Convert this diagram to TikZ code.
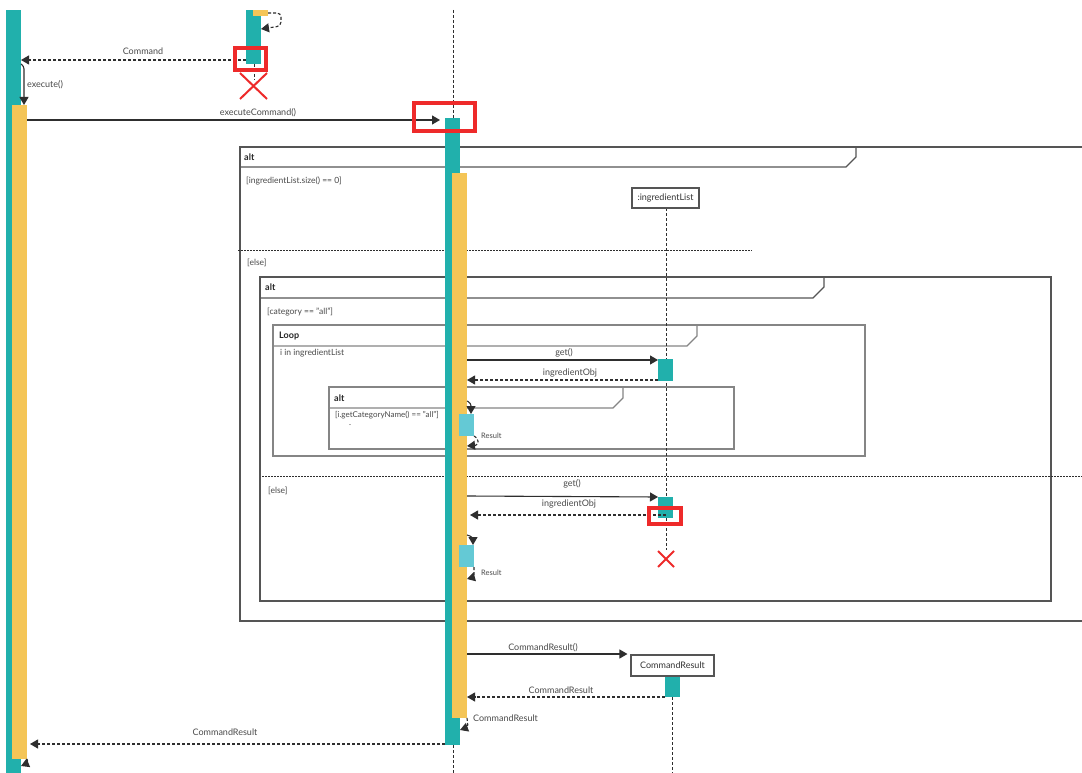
\documentclass[tikz,border=0pt]{standalone}
\usepackage{fontspec}
\setmainfont{Lato}
\usetikzlibrary{arrows.meta}
\definecolor{tealc}{HTML}{21B0AC}
\definecolor{yelc}{HTML}{F4C557}
\definecolor{cyanc}{HTML}{64C9D5}
\definecolor{redc}{HTML}{EE2A2A}
\definecolor{framec}{HTML}{555555}
\definecolor{frame2c}{HTML}{858585}
\definecolor{txtc}{HTML}{4A4A4A}
\definecolor{linec}{HTML}{2E2E2E}
\tikzset{
  act/.style={inner sep=0pt, outer sep=0pt, anchor=north west, minimum width=15pt, draw=none},
  msg/.style={draw=linec, line width=1.1pt, -{Triangle[length=8pt,width=9pt]}},
  ret/.style={msg, dash pattern=on 3pt off 2pt},
  life/.style={draw=linec, line width=0.7pt, dash pattern=on 3pt off 2pt},
  lbl/.style={font=\fontsize{9}{10}\selectfont, text=txtc, inner sep=0pt},
  small/.style={font=\fontsize{7.5}{8}\selectfont, text=txtc, inner sep=0pt, anchor=west},
  hdr/.style={font=\bfseries\fontsize{9}{10}\selectfont, text=black!85, inner sep=0pt, anchor=west},
  guard/.style={font=\fontsize{8.5}{9}\selectfont, text=txtc, inner sep=0pt, anchor=west},
  frm/.style={draw=framec, line width=1.2pt},
  frmb/.style={draw=frame2c, line width=1.2pt},
  sepline/.style={draw=linec, line width=0.8pt, dash pattern=on 2pt off 1pt},
  objbox/.style={draw=framec, line width=1.1pt, fill=white, inner sep=0pt, font=\fontsize{9}{10}\selectfont, text=black!80},
  redbox/.style={draw=redc, line width=4pt},
  redx/.style={draw=redc, line width=2pt}
}
\begin{document}
\begin{tikzpicture}[x=1pt,y=-1pt]
\useasboundingbox (0,0) rectangle (1082,773);
\fill[white] (0,0) rectangle (1082,773);

% ---- combined fragments ----
\draw[frm] (1084,147) -- (240,147) -- (240,621) -- (1084,621);
\draw[frm] (240,167) -- (846,167) -- (856,157) -- (856,147);
\node[hdr] (altA) at (244,157) {alt};
\node[guard] (gA) at (246,181) {[ingredientList.size() == 0]};
\draw[sepline] (238,250) -- (752,250);
\node[guard] (eA) at (247,263) {[else]};

\draw[frm] (260,277) rectangle (1051,601);
\draw[frm] (260,298) -- (813,298) -- (824,287) -- (824,277);
\node[hdr] (altB) at (265,287) {alt};
\node[guard] (gB) at (267,312) {[category == "all"]};
\draw[sepline] (262,476) -- (1084,476);
\node[guard] (eB) at (268,491) {[else]};

\draw[frmb] (273,325) rectangle (865,456);
\draw[frmb] (273,346) -- (687,346) -- (697,336) -- (697,325);
\node[hdr] (loopH) at (279,336) {Loop};
\node[guard] (gL) at (280,353) {i in ingredientList};

\draw[frmb] (329,387) rectangle (734,449);
\draw[frmb] (329,408) -- (613,408) -- (623,398) -- (623,387);
\node[hdr] (altC) at (334,398) {alt};
\node[guard, font=\fontsize{8}{9}\selectfont] (gC) at (335,415) {[i.getCategoryName() == "all"]};
\node[guard] (dotC) at (349,425) {.};

% ---- lifelines ----
\draw[life] (453,10) -- (453,773);
\draw[life] (254,64) -- (254,80);
\draw[life] (666,208) -- (666,550);
\draw[life] (672,697) -- (672,773);

% ---- activation bars ----
\node[act, fill=tealc, minimum height=763pt] (tL) at (6,10) {};
\node[act, fill=yelc, minimum height=654pt] (yL) at (12,105) {};
\node[act, fill=tealc, minimum height=54pt] (tT) at (246,10) {};
\node[act, fill=yelc, minimum height=6pt] (yT) at (253,10) {};
\node[act, fill=tealc, minimum height=627pt] (tM) at (445,118) {};
\node[act, fill=yelc, minimum height=545pt] (yM) at (452,173) {};
\node[act, fill=tealc, minimum height=22pt] (aI1) at (658,359) {};
\node[act, fill=cyanc, minimum height=22pt] (cA) at (459,414) {};
\node[act, fill=tealc, minimum height=21pt] (aI2) at (658,497) {};
\node[act, fill=cyanc, minimum height=22pt] (cB) at (459,545) {};
\node[act, fill=tealc, minimum height=21pt] (aC) at (665,676) {};

% ---- object boxes ----
\node[objbox, minimum width=67pt, minimum height=20pt] (boxI) at (665.5,198) {:ingredientList};
\node[objbox, minimum width=83pt, minimum height=21pt] (boxC) at (672.5,665.5) {CommandResult};

% ---- messages ----
\draw[ret, rounded corners=4pt] (yT.east) -- (281,13) -- (281,26) -- (tT.east |- 0,29);
\draw[ret] (tT.west |- 0,60) -- (tL.east |- 0,60);
\node[lbl] (lCmd) at (143,51) {Command};
\draw[msg, rounded corners=3pt] (tL.east |- 0,64) -- (24,66) -- (yL.north -| 24,0);
\node[lbl, anchor=west] (lExe) at (27,85) {execute()};
\draw[msg, shorten >=5pt] (yL.east |- 0,120) -- (tM.west |- 0,120);
\node[lbl] (lExC) at (258,113) {executeCommand()};

\draw[msg] (yM.east |- 0,360) -- (aI1.west |- 0,360);
\node[lbl] (lGet1) at (564,353) {get()};
\draw[ret] (aI1.west |- 0,380) -- (yM.east |- 0,380);
\node[lbl] (lObj1) at (570,373) {ingredientObj};
\draw[msg, rounded corners=3pt] (yM.east |- 0,401) -- (471,403) -- (cA.north -| 471,0);
\draw[ret, rounded corners=2pt] (cA.south east) -- (478,439) -- (478,445) -- (yM.east |- 0,446);
\node[small] (lRes1) at (481,436) {Result};

\draw[msg] (yM.east |- 0,496) -- (aI2.west |- 0,497);
\node[lbl] (lGet2) at (572,484) {get()};
\draw[ret, shorten >=3pt] (aI2.center |- 0,515) -- (yM.east |- 0,515);
\node[lbl] (lObj2) at (569,504) {ingredientObj};
\draw[msg, rounded corners=3pt] (yM.east |- 0,535) -- (473,537) -- (cB.north -| 473,0);
\draw[ret, rounded corners=2pt] (cB.south east) -- (474,577) -- (yM.east |- 0,579);
\node[small] (lRes2) at (481,573) {Result};

\draw[msg, shorten >=3pt] (yM.east |- 0,654) -- (boxC.west |- 0,654);
\node[lbl] (lCR1) at (543,648) {CommandResult()};
\draw[ret] (aC.west |- 0,697) -- (yM.east |- 0,697);
\node[lbl] (lCR2) at (561,690) {CommandResult};
\draw[ret, rounded corners=2pt] (yM.south east) -- (468,727) -- (tM.east |- 0,730);
\node[lbl, anchor=west] (lCR3) at (473,718) {CommandResult};
\draw[ret, shorten >=3pt] (tM.west |- 0,744) -- (yL.east |- 0,744);
\node[lbl] (lCR4) at (225,732) {CommandResult};
\draw[ret, rounded corners=2pt] (yL.south east) -- (28,763) -- (tL.east |- 0,766);

% ---- highlights and destroys ----
\draw[redbox] (235,48) rectangle (266,70);
\draw[redbox] (414,103) rectangle (475,131);
\draw[redbox] (649,508) rectangle (681,524);
\draw[redx] (240,73) -- (267,99) (240,99) -- (267,73);
\draw[redx] (658,551) -- (674,567) (658,567) -- (674,551);
\end{tikzpicture}
\end{document}
